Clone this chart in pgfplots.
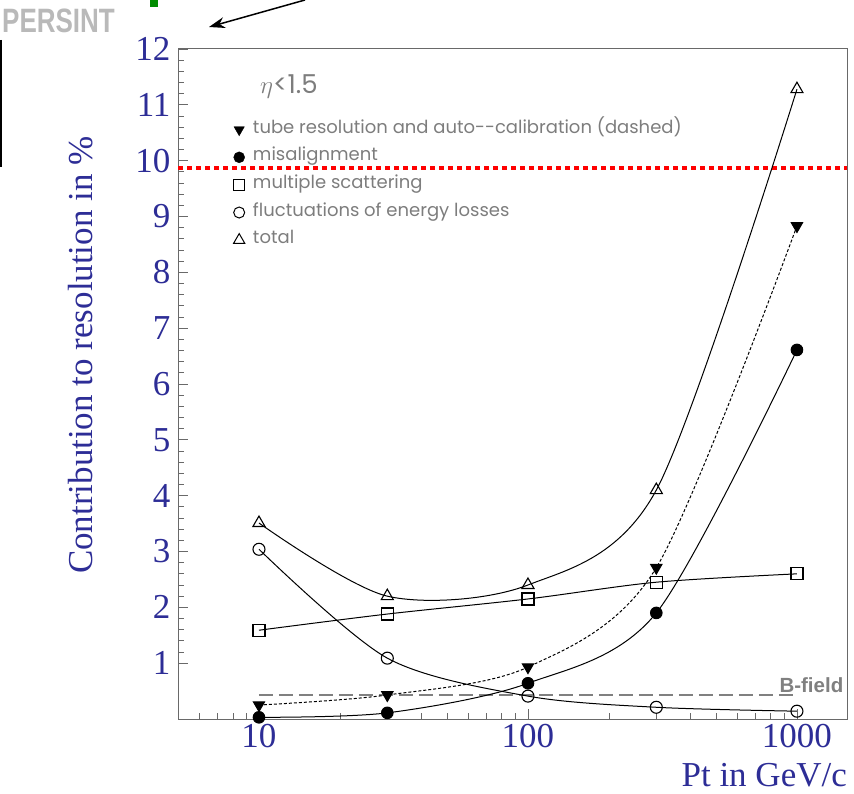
\documentclass[border=0pt]{standalone}
\usepackage{pgfplots}
\pgfplotsset{compat=1.18}
\usepackage{fontspec}
\setmainfont{Liberation Serif}
\newfontfamily\legfont{Poppins}
\newfontfamily\bfont{Liberation Sans}
\usetikzlibrary{arrows.meta}
\definecolor{myblue}{RGB}{45,45,150}
\definecolor{framegray}{RGB}{105,105,105}
\definecolor{txtgray}{RGB}{125,125,125}
\definecolor{bgray}{RGB}{128,128,128}
\begin{document}
\begin{tikzpicture}[x=1pt,y=1pt]
\useasboundingbox (0,0) rectangle (854,793);
% decorative logo / arrow from the slide
\node[anchor=west, text=gray!55, font=\bfont\bfseries\fontsize{26}{26}\selectfont, yscale=1.3, inner sep=0pt] at (2,772) {PERSINT};
\fill[green!55!black] (150,786) rectangle (158,793);
\draw[line width=2pt] (1,753) -- (1,626);
\draw[line width=1.5pt, -{Stealth[length=16pt,width=11pt]}] (305,793) -- (209,766);
\begin{axis}[
  at={(178pt,74pt)}, anchor=south west,
  scale only axis, width=669pt, height=670pt,
  xmode=log, xmin=5, xmax=1535, ymin=0, ymax=12,
  axis line style={framegray, line width=1pt},
  tick style={framegray, line width=0.8pt},
  tick align=inside, tick pos=left,
  major tick length=10pt, minor tick length=6pt,
  xtick={10,100,1000}, xticklabels={10,100,1000},
  minor xtick={6,7,8,9,20,30,40,50,60,70,80,90,200,300,400,500,600,700,800,900},
  ytick={1,2,3,4,5,6,7,8,9,10,11,12},
  yticklabels={1,2,3,4,5,6,7,8,9,10,11,12},
  minor y tick num=4,
  tick label style={font=\fontsize{35}{35}\selectfont, text=myblue},
  xticklabel style={yshift=-2pt},
  yticklabel style={xshift=-4pt},
  xlabel={Pt in GeV/c},
  ylabel={Contribution to resolution in \%},
  label style={font=\fontsize{35}{35}\selectfont, text=myblue},
  xlabel style={at={(axis description cs:1.005,-0.084)}, anchor=east},
  ylabel style={at={(axis description cs:-0.146,0.543)}, anchor=center},
  legend style={at={(axis description cs:0.078,0.894)}, anchor=north west,
    draw=none, fill=none, row sep=12.6pt,
    font=\legfont\fontsize{18}{18}\selectfont, text=txtgray,
    nodes={text height=11pt, text depth=4pt, inner sep=0pt}},
  legend cell align=left,
  legend image code/.code={\draw[#1] plot coordinates {(6pt,0pt)};},
  /tikz/every odd column/.append style={column sep=8pt},
  /tikz/every even column/.append style={column sep=0pt},
]
\addlegendimage{only marks, black, mark=triangle*, mark size=6pt, mark options={rotate=180}}
\addlegendentry{tube resolution and auto--calibration (dashed)}
\addlegendimage{only marks, black, mark=*, mark size=5.5pt}
\addlegendentry{misalignment}
\addlegendimage{only marks, black, mark=square, mark size=5.8pt, mark options={line width=1pt}}
\addlegendentry{multiple scattering}
\addlegendimage{only marks, black, mark=o, mark size=5.5pt, mark options={line width=1pt}}
\addlegendentry{fluctuations of energy losses}
\addlegendimage{only marks, black, mark=triangle, mark size=6.5pt, mark options={line width=1pt}}
\addlegendentry{total}

% red dotted line
\addplot[red, line width=4.5pt, line cap=butt, dash pattern=on 4.5pt off 4.5pt, forget plot] coordinates {(5,9.87) (1535,9.87)};
% B-field dashed line
\addplot[bgray, line width=1.6pt, dash pattern=on 14pt off 6pt, forget plot] coordinates {(10,0.43) (1000,0.43)};

% tube resolution (dashed)
\addplot[black, line width=1pt, densely dashed, smooth, mark=triangle*, mark size=6.5pt, mark options={solid, rotate=180}, forget plot]
  coordinates {(10,0.25) (30,0.43) (100,0.93) (300,2.71) (1000,8.83)};
% misalignment
\addplot[black, line width=1pt, smooth, mark=*, mark size=5.8pt, forget plot]
  coordinates {(10,0.03) (30,0.11) (100,0.64) (300,1.90) (1000,6.61)};
% multiple scattering
\addplot[black, line width=1pt, smooth, mark=square, mark size=6pt, mark options={line width=1.1pt}, forget plot]
  coordinates {(10,1.59) (30,1.88) (100,2.15) (300,2.45) (1000,2.60)};
% fluctuations of energy losses
\addplot[black, line width=1pt, smooth, mark=o, mark size=6pt, mark options={line width=1.1pt}, forget plot]
  coordinates {(10,3.04) (30,1.09) (100,0.41) (300,0.21) (1000,0.14)};
% total
\addplot[black, line width=1pt, smooth, mark=triangle, mark size=7pt, mark options={line width=1.1pt}, forget plot]
  coordinates {(10,3.51) (30,2.20) (100,2.40) (300,4.10) (1000,11.28)};

\node[anchor=base west, inner sep=0pt, text=txtgray, font=\legfont\fontsize{26}{26}\selectfont]
  at (axis description cs:0.1226,0.933) {$\eta$<1.5};
\node[anchor=base west, inner sep=0pt, text=bgray, font=\bfont\bfseries\fontsize{20.5}{20.5}\selectfont]
  at (axis cs:860,0.47) {B-field};
\end{axis}
\end{tikzpicture}
\end{document}
